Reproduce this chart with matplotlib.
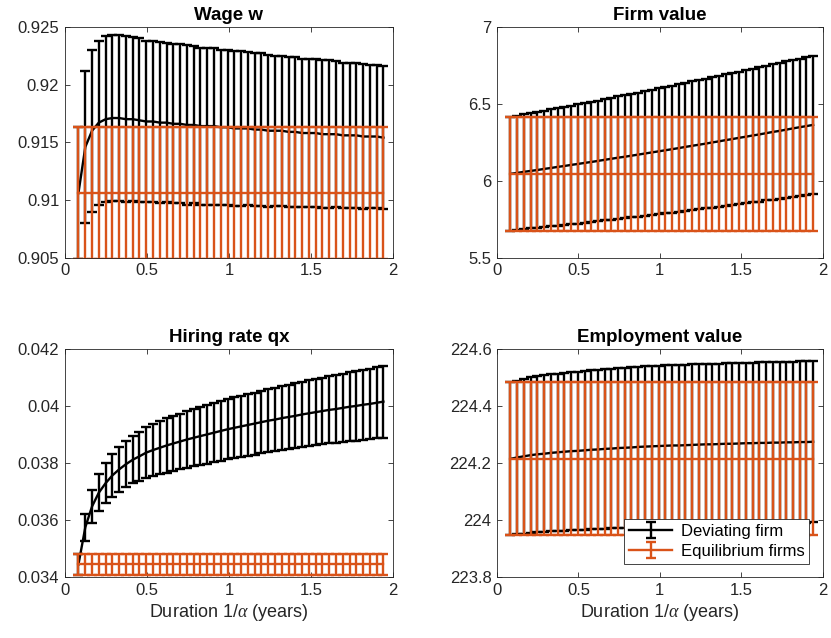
import matplotlib
matplotlib.use("Agg")
import matplotlib.pyplot as plt
from matplotlib.ticker import FuncFormatter, MultipleLocator
import numpy as np

plt.rcParams['font.family'] = ['Liberation Sans', 'DejaVu Sans']
plt.rcParams['mathtext.fontset'] = 'custom'
plt.rcParams['mathtext.it'] = 'Liberation Serif:italic'
plt.rcParams['mathtext.rm'] = 'Liberation Sans'

# Duration 1/alpha (years)
duration = [0.083, 0.125, 0.166, 0.207, 0.249, 0.290, 0.331, 0.372, 0.414, 0.455,
            0.496, 0.538, 0.579, 0.620, 0.661, 0.703, 0.744, 0.785, 0.826, 0.868,
            0.909, 0.950, 0.992, 1.033, 1.074, 1.115, 1.157, 1.198, 1.239, 1.281,
            1.322, 1.363, 1.404, 1.446, 1.487, 1.528, 1.570, 1.611, 1.652, 1.693,
            1.735, 1.776, 1.817, 1.859, 1.900, 1.941]

# Wage w
wage_dev = [0.9106, 0.9146, 0.9160, 0.9167, 0.9170, 0.9171, 0.9171, 0.9170, 0.9170, 0.9169,
            0.9168, 0.9168, 0.9167, 0.9167, 0.9166, 0.9166, 0.9165, 0.9165, 0.9164, 0.9164,
            0.9164, 0.9163, 0.9163, 0.9162, 0.9162, 0.9162, 0.9161, 0.9161, 0.9160, 0.9160,
            0.9160, 0.9159, 0.9159, 0.9158, 0.9158, 0.9158, 0.9157, 0.9157, 0.9157, 0.9156,
            0.9156, 0.9156, 0.9155, 0.9155, 0.9155, 0.9154]
wage_dev_err = [0.0057, 0.0066, 0.0070, 0.0071, 0.0072, 0.0072, 0.0072, 0.0072, 0.0071, 0.0071,
                0.0070, 0.0070, 0.0070, 0.0069, 0.0069, 0.0069, 0.0069, 0.0068, 0.0068, 0.0068,
                0.0068, 0.0067, 0.0067, 0.0067, 0.0067, 0.0066, 0.0066, 0.0066, 0.0066, 0.0065,
                0.0065, 0.0065, 0.0065, 0.0064, 0.0064, 0.0064, 0.0064, 0.0064, 0.0063, 0.0063,
                0.0063, 0.0063, 0.0063, 0.0062, 0.0062, 0.0062]
wage_eq = 0.91064
wage_eq_err = 0.00571

# Firm value
firm_dev = [6.045, 6.051, 6.058, 6.064, 6.070, 6.077, 6.083, 6.090, 6.096, 6.103,
            6.109, 6.116, 6.122, 6.129, 6.136, 6.143, 6.150, 6.156, 6.163, 6.170,
            6.177, 6.184, 6.191, 6.198, 6.205, 6.212, 6.220, 6.227, 6.234, 6.241,
            6.249, 6.256, 6.264, 6.271, 6.279, 6.286, 6.294, 6.301, 6.309, 6.317,
            6.324, 6.332, 6.340, 6.348, 6.355, 6.363]
firm_dev_err = [0.369, 0.371, 0.373, 0.374, 0.376, 0.378, 0.380, 0.382, 0.383, 0.385,
                0.387, 0.389, 0.391, 0.392, 0.394, 0.396, 0.398, 0.400, 0.401, 0.403,
                0.405, 0.407, 0.409, 0.410, 0.412, 0.414, 0.416, 0.418, 0.419, 0.421,
                0.423, 0.425, 0.427, 0.428, 0.430, 0.432, 0.434, 0.436, 0.437, 0.439,
                0.441, 0.443, 0.445, 0.446, 0.448, 0.450]
firm_eq = 6.045
firm_eq_err = 0.369

# Hiring rate qx
hire_dev = [0.03444, 0.03575, 0.03648, 0.03696, 0.03730, 0.03757, 0.03778, 0.03796, 0.03812, 0.03824,
            0.03837, 0.03846, 0.03854, 0.03862, 0.03869, 0.03876, 0.03883, 0.03889, 0.03895, 0.03901,
            0.03907, 0.03913, 0.03919, 0.03924, 0.03929, 0.03934, 0.03939, 0.03944, 0.03949, 0.03953,
            0.03958, 0.03962, 0.03966, 0.03971, 0.03975, 0.03979, 0.03983, 0.03987, 0.03990, 0.03994,
            0.03998, 0.04001, 0.04005, 0.04008, 0.04012, 0.04016]
hire_dev_err = [0.00038, 0.00048, 0.000575, 0.000645, 0.00070, 0.000755, 0.00079, 0.000815, 0.000835, 0.00086,
                0.00089, 0.00091, 0.00093, 0.00095, 0.00096, 0.00098, 0.00099, 0.00100, 0.00102, 0.00103,
                0.00104, 0.00105, 0.00106, 0.00107, 0.00108, 0.00109, 0.00109, 0.00110, 0.00111, 0.00112,
                0.00112, 0.00113, 0.00114, 0.00115, 0.00116, 0.00117, 0.00117, 0.00118, 0.00119, 0.00120,
                0.00121, 0.00122, 0.00123, 0.00124, 0.00125, 0.00126]
hire_eq = 0.03444
hire_eq_err = 0.00038

# Employment value
emp_dev = [224.215, 224.220, 224.224, 224.228, 224.231, 224.233, 224.236, 224.238, 224.240, 224.242,
           224.243, 224.245, 224.247, 224.248, 224.250, 224.251, 224.253, 224.254, 224.255, 224.257,
           224.258, 224.259, 224.260, 224.261, 224.262, 224.262, 224.263, 224.264, 224.265, 224.266,
           224.266, 224.267, 224.268, 224.268, 224.269, 224.270, 224.270, 224.271, 224.271, 224.272,
           224.272, 224.273, 224.273, 224.274, 224.274, 224.275]
emp_dev_err = [0.2685, 0.2700, 0.2715, 0.2730, 0.2740, 0.2750, 0.2760, 0.2765, 0.2770, 0.2780,
               0.2785, 0.2790, 0.2792, 0.2795, 0.2800, 0.2803, 0.2806, 0.2810, 0.2812, 0.2815,
               0.2817, 0.2819, 0.2820, 0.2821, 0.2822, 0.2823, 0.2824, 0.2825, 0.2825, 0.2826,
               0.2827, 0.2827, 0.2828, 0.2828, 0.2829, 0.2830, 0.2830, 0.2830, 0.2830, 0.2830,
               0.2830, 0.2830, 0.2830, 0.2830, 0.2830, 0.2830]
emp_eq = 224.2155
emp_eq_err = 0.2685

panels = [
    ("Wage w", wage_dev, wage_dev_err, wage_eq, wage_eq_err, (0.905, 0.925), 0.005),
    ("Firm value", firm_dev, firm_dev_err, firm_eq, firm_eq_err, (5.5, 7.0), 0.5),
    ("Hiring rate qx", hire_dev, hire_dev_err, hire_eq, hire_eq_err, (0.034, 0.042), 0.002),
    ("Employment value", emp_dev, emp_dev_err, emp_eq, emp_eq_err, (223.8, 224.6), 0.2),
]

BLACK = '#000000'
ORANGE = '#D95319'
AXC = '#262626'
LW = 1.7

fig = plt.figure(figsize=(8.31, 6.38), dpi=100)
positions = [
    [0.078, 0.596, 0.395, 0.362],
    [0.598, 0.596, 0.392, 0.362],
    [0.078, 0.0956, 0.395, 0.357],
    [0.598, 0.0956, 0.392, 0.357],
]

fmt = FuncFormatter(lambda v, p: ('%g' % round(v, 6)))
x = np.array(duration)

for i, (title, dev, dev_err, eq, eq_err, ylim, ystep) in enumerate(panels):
    ax = fig.add_axes(positions[i])
    ax.errorbar(x, dev, yerr=dev_err, color=BLACK, ecolor=BLACK, lw=LW,
                elinewidth=LW, capsize=3.7, capthick=LW, zorder=2,
                label='Deviating firm')
    eq_vals = np.full(len(x), eq)
    eq_errs = np.full(len(x), eq_err)
    ax.errorbar(x, eq_vals, yerr=eq_errs, color=ORANGE, ecolor=ORANGE, lw=LW,
                elinewidth=LW, capsize=3.7, capthick=LW, zorder=3,
                label='Equilibrium firms')
    ax.set_xlim(0, 2)
    ax.set_ylim(*ylim)
    ax.xaxis.set_major_locator(MultipleLocator(0.5))
    ax.yaxis.set_major_locator(MultipleLocator(ystep))
    ax.xaxis.set_major_formatter(fmt)
    ax.yaxis.set_major_formatter(fmt)
    ax.tick_params(direction='in', length=3.5, width=0.6, colors=AXC,
                   labelsize=12, top=True, right=True, pad=4)
    for s in ax.spines.values():
        s.set_color(AXC)
        s.set_linewidth(0.6)
        s.set_zorder(5)
    ax.set_title(title, fontsize=13.5, fontweight='bold', color='black', pad=5)
    if i >= 2:
        ax.set_xlabel(r'Duration 1/$\alpha$ (years)', fontsize=13, color=AXC, labelpad=3)
    if i == 3:
        leg = ax.legend(loc='lower right', fontsize=12, frameon=True, fancybox=False,
                        framealpha=1, edgecolor=AXC, borderaxespad=0.8,
                        handlelength=2.6, borderpad=0.3, labelspacing=0.3,
                        handletextpad=0.5)
        leg.get_frame().set_linewidth(0.6)
        leg.set_zorder(10)

fig.savefig('out.png', dpi=100)
